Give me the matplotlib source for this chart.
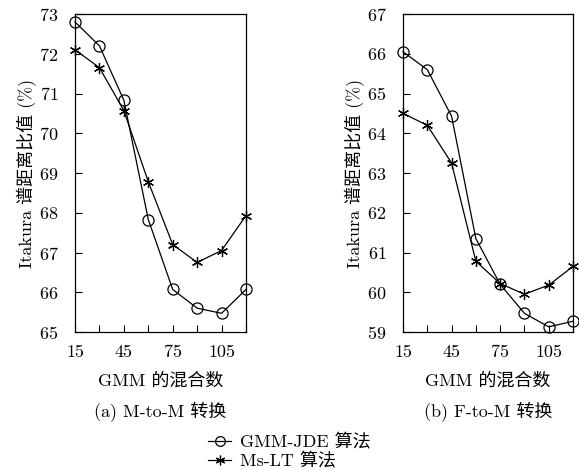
import matplotlib
matplotlib.use("Agg")
import matplotlib.pyplot as plt
from matplotlib.lines import Line2D

plt.rcParams['font.family'] = ['cmr10', 'Noto Sans CJK SC']
plt.rcParams['axes.formatter.use_mathtext'] = True
plt.rcParams['mathtext.fontset'] = 'cm'

mixtures = [15, 30, 45, 60, 75, 90, 105, 120]
xtick_labels = [15, 45, 75, 105]

a_gmm_jde = [72.8, 72.2, 70.83, 67.83, 66.07, 65.6, 65.47, 66.07]
a_ms_lt = [72.1, 71.65, 70.57, 68.78, 67.2, 66.75, 67.05, 67.93]

b_gmm_jde = [66.05, 65.6, 64.43, 61.35, 60.2, 59.47, 59.13, 59.27]
b_ms_lt = [64.5, 64.2, 63.25, 60.78, 60.22, 59.95, 60.18, 60.65]

series_names = ['GMM-JDE 算法', 'Ms-LT 算法']
captions = ['(a) M-to-M 转换', '(b) F-to-M 转换']
xlabel = 'GMM 的混合数'
ylabel = 'Itakura 谱距离比值 (%)'

fig = plt.figure(figsize=(5.79, 4.70), dpi=100)
ax1 = fig.add_axes([75/579, 1-332/470, 171/579, 318/470])
ax2 = fig.add_axes([403/579, 1-332/470, 170/579, 318/470])

asterisk = (6, 2, 0)
fs = 13

def draw(ax, jde, mslt, ylim, caption):
    ax.plot(mixtures, jde, color='black', lw=0.9, marker='o', ms=8,
            mfc='none', mec='black', mew=0.9, clip_on=False, zorder=3)
    ax.plot(mixtures, mslt, color='black', lw=0.9, marker=asterisk, ms=8,
            mec='black', mew=0.9, clip_on=False, zorder=3)
    ax.set_xlim(15, 120)
    ax.set_ylim(*ylim)
    ax.set_xticks(mixtures)
    ax.set_xticklabels([str(m) if m in xtick_labels else '' for m in mixtures])
    ax.set_yticks(range(ylim[0], ylim[1] + 1))
    ax.tick_params(direction='in', length=5, width=0.8, labelsize=fs,
                   top=False, right=False)
    ax.tick_params(axis='x', pad=9)
    ax.tick_params(axis='y', pad=12)
    for s in ax.spines.values():
        s.set_linewidth(0.9)
    ax.set_ylabel(ylabel, fontsize=fs, labelpad=1)
    ax.set_xlabel(xlabel, fontsize=fs, labelpad=9)
    ax.text(0.5, -0.218, caption, transform=ax.transAxes, ha='center',
            va='top', fontsize=fs)

draw(ax1, a_gmm_jde, a_ms_lt, (65, 73), captions[0])
draw(ax2, b_gmm_jde, b_ms_lt, (59, 67), captions[1])

handles = [
    Line2D([], [], color='black', lw=0.9, marker='o', ms=7, mfc='none', mew=0.9),
    Line2D([], [], color='black', lw=0.9, marker=asterisk, ms=7, mew=0.9),
]
fig.legend(handles, series_names, loc='center', bbox_to_anchor=(0.5, 1-451/470),
           frameon=False, fontsize=fs, handlelength=1.3, handletextpad=0.5,
           labelspacing=0.1, borderpad=0)

fig.savefig('out.png', dpi=100)
